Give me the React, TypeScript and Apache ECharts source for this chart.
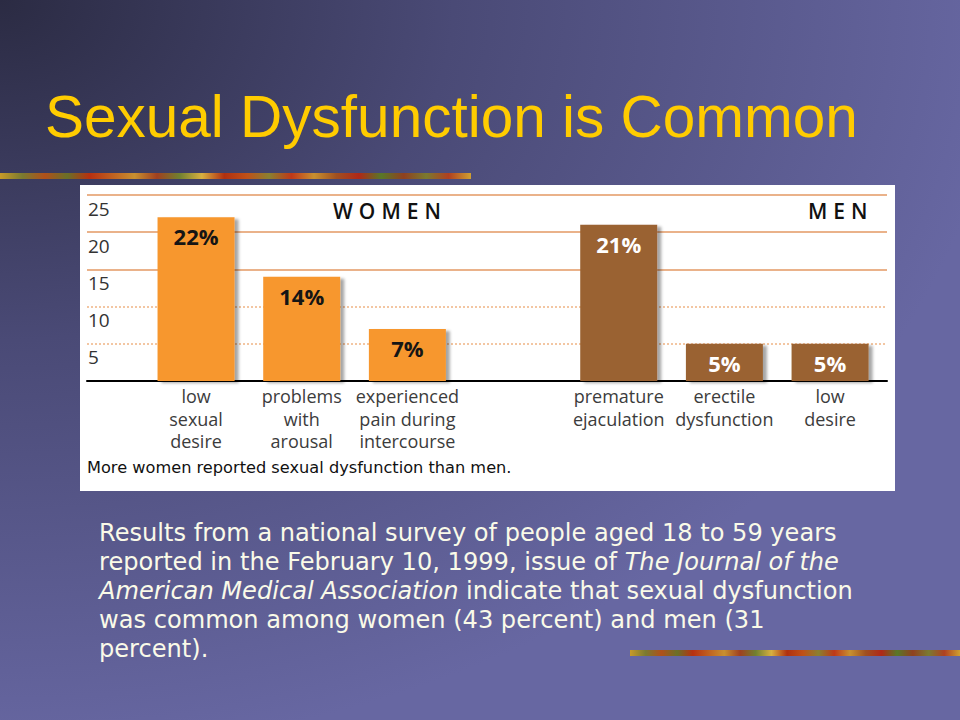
import React, { useEffect, useRef } from "react";
import * as echarts from "echarts";

// ---- data ----
const categories = [
  "low\nsexual\ndesire",
  "problems\nwith\narousal",
  "experienced\npain during\nintercourse",
  "",
  "premature\nejaculation",
  "erectile\ndysfunction",
  "low\ndesire",
];
const womenValues = [22, 14, 7];
const menValues = [21, 5, 5];
const yMax = 25;
const yStep = 5;
const titleText = "Sexual Dysfunction is Common";
const groupLabels = ["WOMEN", "MEN"];
const footnote = "More women reported sexual dysfunction than men.";
const bodyRich =
  "{n|Results from a national survey of people aged 18 to 59 years}\n" +
  "{n|reported in the February 10, 1999, issue of }{i|The Journal of the}\n" +
  "{i|American Medical Association}{n| indicate that sexual dysfunction}\n" +
  "{n|was common among women (43 percent) and men (31}\n" +
  "{n|percent).}";

const WOMEN_COLOR = "#f7972f";
const MEN_COLOR = "#9a6231";

const stripStops = [
  "#c89a28", "#7a7a30", "#b0501a", "#6a7028", "#b83010", "#c06020",
  "#c89030", "#a04020", "#708030", "#d8b040", "#b03010", "#c05018",
  "#8a8030", "#c03818", "#c89030", "#a05020", "#b02818", "#587828",
  "#904020", "#7a7a30", "#b04020", "#d0a030",
];
const stripGradient = () =>
  new echarts.graphic.LinearGradient(
    0, 0, 1, 0,
    stripStops.map((c, i) => ({ offset: i / (stripStops.length - 1), color: c }))
  );

export default function App() {
  const ref = useRef<HTMLDivElement>(null);
  useEffect(() => {
    document.body.style.margin = "0";
    if (!ref.current) return;
    const chart = echarts.init(ref.current, null, { renderer: "svg" });

    const barData: any[] = [
      ...womenValues.map((v) => ({
        value: v,
        itemStyle: { color: WOMEN_COLOR },
        label: { color: "#151515" },
      })),
      "-",
      ...menValues.map((v) => ({
        value: v,
        itemStyle: { color: MEN_COLOR },
        label: { color: "#ffffff" },
      })),
    ];

    const T = "rgba(0,0,0,0)";
    const SOLID = "#eab28a";
    const DOT = "#f3c6a2";

    const option: any = {
      animation: false,
      graphic: [
        {
          type: "rect",
          z: -10,
          shape: { x: 0, y: 0, width: 960, height: 720 },
          style: {
            fill: new echarts.graphic.RadialGradient(0, 0, 1.05, [
              { offset: 0, color: "#2b2b43" },
              { offset: 0.45, color: "#4a4a76" },
              { offset: 1, color: "#6767a2" },
            ]),
          },
        },
        {
          type: "text",
          x: 45,
          y: 116,
          style: {
            text: titleText,
            fill: "#ffcc00",
            font: "58.5px 'Liberation Sans', Arial, sans-serif",
            verticalAlign: "middle",
          },
        },
        {
          type: "rect",
          shape: { x: 0, y: 173, width: 471, height: 6 },
          style: { fill: stripGradient() },
        },
        {
          type: "rect",
          shape: { x: 630, y: 650, width: 330, height: 6 },
          style: { fill: stripGradient() },
        },
        {
          type: "rect",
          z: -5,
          shape: { x: 80, y: 185, width: 815, height: 306 },
          style: { fill: "#ffffff" },
        },
        {
          type: "text",
          x: 333,
          y: 211,
          style: {
            text: groupLabels[0],
            fill: "#111",
            font: "600 21px 'Open Sans', sans-serif",
            verticalAlign: "middle",
          },
        },
        {
          type: "text",
          x: 808,
          y: 211,
          style: {
            text: groupLabels[1],
            fill: "#111",
            font: "600 21px 'Open Sans', sans-serif",
            verticalAlign: "middle",
          },
        },
        {
          type: "text",
          x: 87,
          y: 467,
          style: {
            text: footnote,
            fill: "#111",
            font: "16.2px 'DejaVu Sans', sans-serif",
            verticalAlign: "middle",
          },
        },
        {
          type: "text",
          x: 99,
          y: 518,
          style: {
            text: bodyRich,
            verticalAlign: "top",
            rich: {
              n: {
                fill: "#fafae8",
                fontFamily: "'DejaVu Sans', sans-serif",
                fontSize: 24.1,
                lineHeight: 29,
              },
              i: {
                fill: "#fafae8",
                fontFamily: "'DejaVu Sans', sans-serif",
                fontStyle: "italic",
                fontSize: 24.1,
                lineHeight: 29,
              },
            },
          },
        },
      ],
      grid: [
        { left: 87, right: 73, top: 195, bottom: 339 },
        { left: 143.2, right: 77.1, top: 195, bottom: 339 },
      ],
      xAxis: [
        {
          gridIndex: 0,
          type: "category",
          data: [""],
          axisLine: { show: true, lineStyle: { color: "#000", width: 2 } },
          axisTick: { show: false },
          axisLabel: { show: false },
          splitLine: { show: false },
        },
        {
          gridIndex: 1,
          type: "category",
          data: categories,
          axisLine: { show: false },
          axisTick: { show: false },
          axisLabel: {
            interval: 0,
            margin: 4,
            color: "#3c3c3c",
            fontFamily: "'Open Sans', sans-serif",
            fontSize: 18,
            lineHeight: 22.5,
          },
        },
      ],
      yAxis: [
        {
          gridIndex: 0,
          type: "value",
          min: 0,
          max: yMax,
          interval: yStep,
          axisLine: { show: false },
          axisTick: { show: false },
          axisLabel: {
            inside: true,
            margin: 1,
            color: "#333",
            fontFamily: "'Open Sans', sans-serif",
            fontSize: 19,
            verticalAlign: "top",
            padding: [4, 0, 0, 0],
            formatter: (v: number) => (v === 0 ? "" : String(v)),
          },
          splitLine: {
            show: true,
            lineStyle: { color: [T, T, T, SOLID, SOLID, SOLID], width: 2 },
          },
        },
        {
          gridIndex: 0,
          type: "value",
          min: 0,
          max: yMax,
          interval: yStep,
          axisLine: { show: false },
          axisTick: { show: false },
          axisLabel: { show: false },
          splitLine: {
            show: true,
            lineStyle: { color: [T, DOT, DOT, T, T, T], width: 2, type: "dotted" },
          },
        },
        {
          gridIndex: 1,
          type: "value",
          min: 0,
          max: yMax,
          show: false,
        },
      ],
      series: [
        {
          type: "bar",
          xAxisIndex: 1,
          yAxisIndex: 2,
          barWidth: 77,
          data: barData,
          itemStyle: {
            shadowColor: "rgba(0,0,0,0.35)",
            shadowBlur: 3,
            shadowOffsetX: 4,
            shadowOffsetY: 2,
          },
          label: {
            show: true,
            position: "insideTop",
            distance: 8,
            formatter: "{c}%",
            fontFamily: "'Open Sans', sans-serif",
            fontWeight: "bold",
            fontSize: 22,
          },
          z: 3,
        },
      ],
    };
    chart.setOption(option);

    const spaceLetters = () => {
      const el = ref.current;
      if (!el) return;
      el.querySelectorAll("text").forEach((t) => {
        const s = (t.textContent || "").trim();
        if (groupLabels.includes(s)) t.setAttribute("letter-spacing", "6");
      });
    };
    spaceLetters();
    chart.on("finished", spaceLetters);
    const tm = setTimeout(spaceLetters, 50);

    return () => {
      clearTimeout(tm);
      chart.dispose();
    };
  }, []);
  return <div ref={ref} style={{ width: 960, height: 720 }} />;
}
